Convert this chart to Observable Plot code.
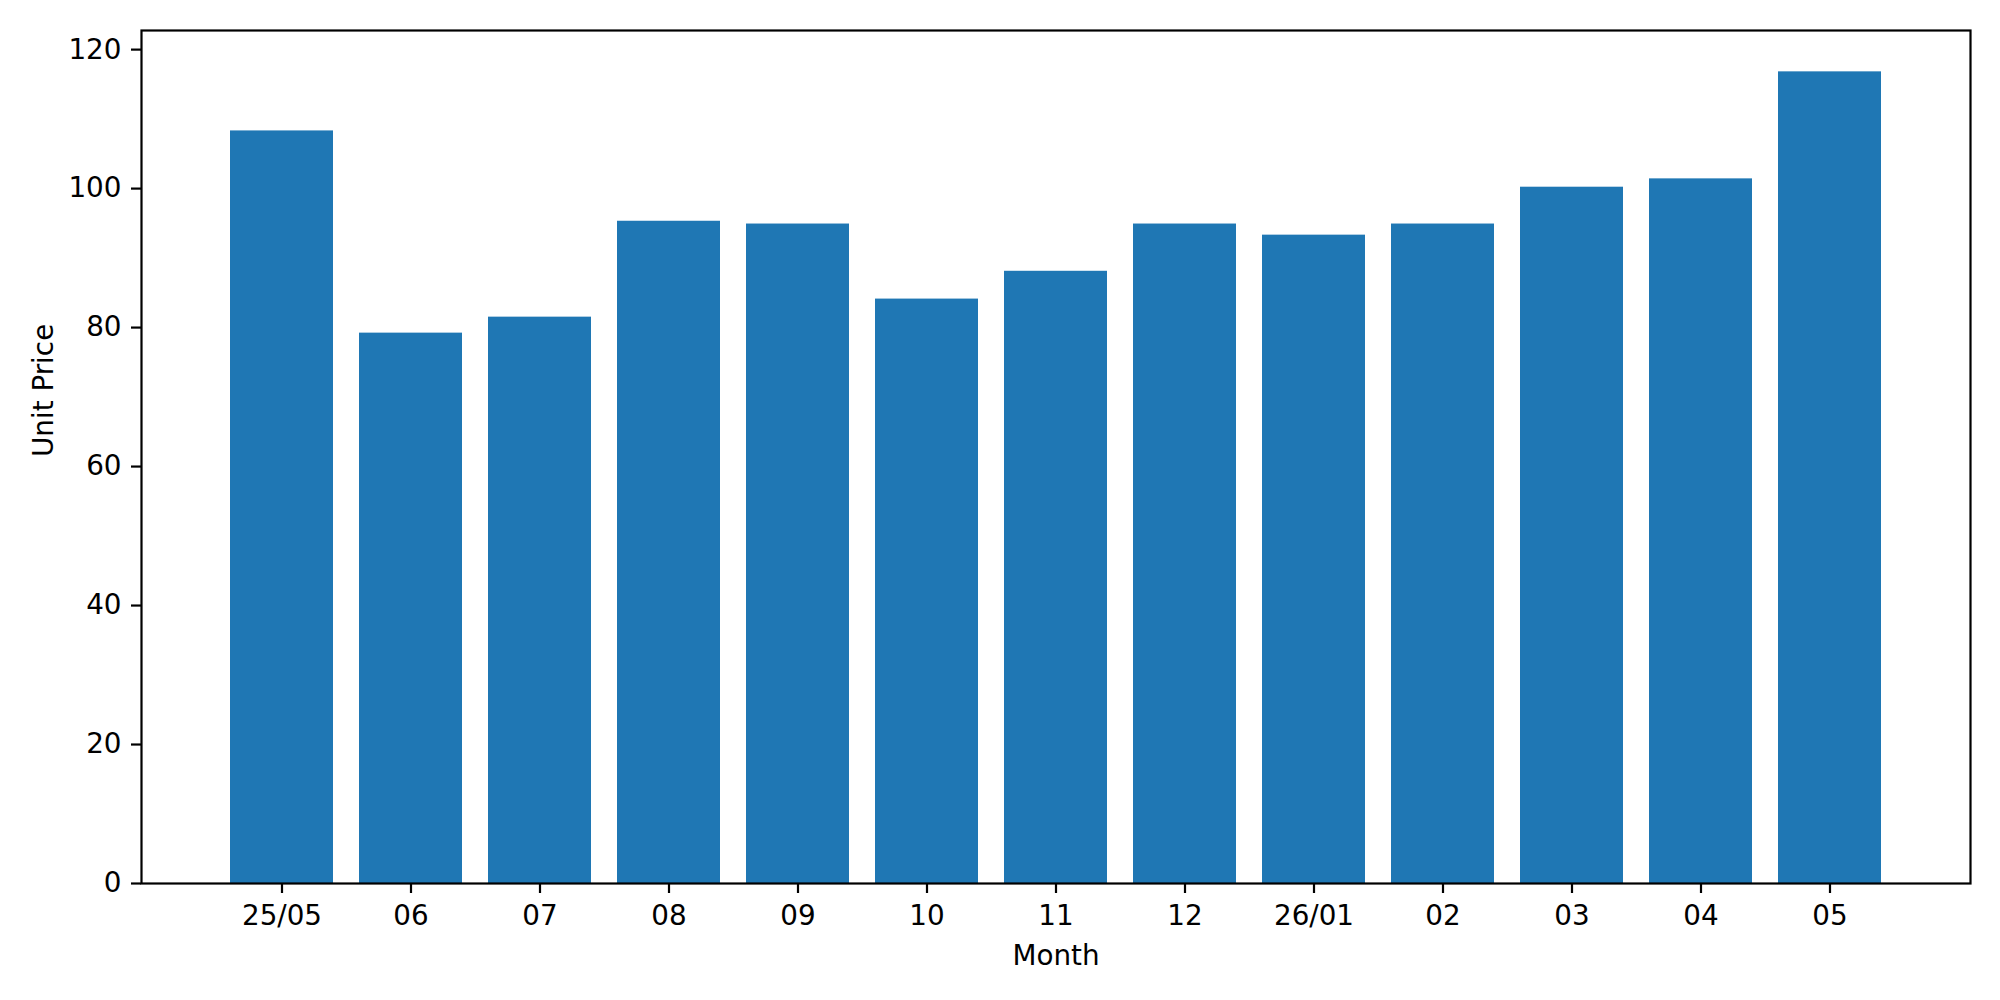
<!DOCTYPE html>
<html>
<head>
<meta charset="utf-8">
<script src="https://cdn.jsdelivr.net/npm/d3@7"></script>
<script src="https://cdn.jsdelivr.net/npm/@observablehq/plot@0.6"></script>
<style>
  html, body { margin: 0; padding: 0; background: #fff; }
  svg { display: block; }
</style>
</head>
<body>
<div id="chart"></div>
<script>
const months = ["25/05", "06", "07", "08", "09", "10", "11", "12", "26/01", "02", "03", "04", "05"];
const prices = [108.3, 79.2, 81.5, 95.3, 94.9, 84.1, 88.1, 94.9, 93.3, 94.9, 100.2, 101.4, 116.8];
const yTicks = [0, 20, 40, 60, 80, 100, 120];
const xLabel = "Month";
const yLabel = "Unit Price";

const data = months.map((m, i) => ({month: m, price: prices[i]}));

const chart = Plot.plot({
  width: 2000,
  height: 1000,
  marginLeft: 141,
  marginRight: 30,
  marginTop: 30,
  marginBottom: 117,
  style: {fontFamily: "DejaVu Sans", fontSize: "27.8px", color: "black", background: "white"},
  x: {domain: months, paddingInner: 0.2, paddingOuter: 0.64, label: null},
  y: {domain: [0, 122.75], label: null},
  marks: [
    Plot.barY(data, {x: "month", y: "price", fill: "#1f77b4"}),
    Plot.axisX({tickSize: 10, tickPadding: 12, strokeWidth: 2.2, label: null}),
    Plot.axisY({ticks: yTicks, tickSize: 10, tickPadding: 10, strokeWidth: 2.2, label: null, tickFormat: d => String(d)}),
    Plot.frame({stroke: "black", strokeWidth: 2.2}),
    Plot.text([xLabel], {text: d => d, frameAnchor: "bottom", lineAnchor: "bottom", dy: 81, fill: "black"}),
    Plot.text([yLabel], {text: d => d, frameAnchor: "left", lineAnchor: "bottom", rotate: -90, dx: -89, fill: "black"})
  ]
});
document.getElementById("chart").appendChild(chart);
</script>
</body>
</html>
